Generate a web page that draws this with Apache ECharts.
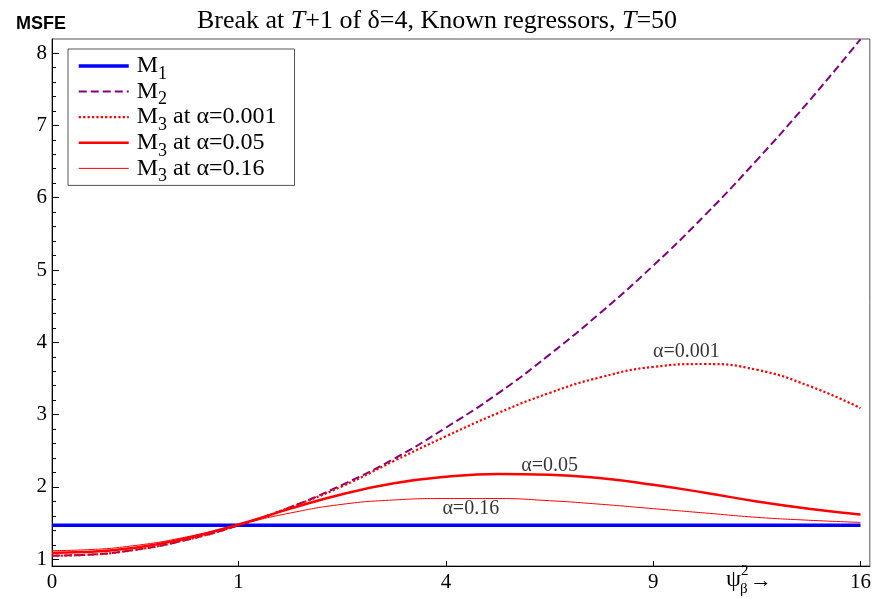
<!DOCTYPE html>
<html>
<head>
<meta charset="utf-8">
<script src="https://cdn.jsdelivr.net/npm/echarts@6/dist/echarts.min.js"></script>
<style>
  html, body { margin: 0; padding: 0; background: #fff; }
  #chart { width: 874px; height: 599px; }
</style>
</head>
<body>
<div id="chart"></div>
<script>
// psi (square root of psi_beta^2) on the x axis
const psi = [0.1, 0.25, 0.5, 0.75, 1, 1.25, 1.5, 1.75, 2, 2.25, 2.5, 2.75, 3, 3.25, 3.5, 3.75, 4];
const m1 = [1.47, 1.47, 1.47, 1.47, 1.47, 1.47, 1.47, 1.47, 1.47, 1.47, 1.47, 1.47, 1.47, 1.47, 1.47, 1.47, 1.47];
const m2 = [1.05, 1.06, 1.13, 1.27, 1.47, 1.72, 2.03, 2.39, 2.82, 3.29, 3.83, 4.42, 5.06, 5.76, 6.52, 7.33, 8.19];
const m3a001 = [1.05, 1.06, 1.13, 1.27, 1.47, 1.72, 2.01, 2.36, 2.70, 3.02, 3.30, 3.52, 3.66, 3.70, 3.62, 3.40, 3.09];
const m3a05 = [1.09, 1.10, 1.16, 1.29, 1.48, 1.70, 1.90, 2.05, 2.14, 2.18, 2.17, 2.12, 2.03, 1.92, 1.80, 1.70, 1.62];
const m3a16 = [1.12, 1.13, 1.19, 1.31, 1.48, 1.64, 1.76, 1.82, 1.84, 1.84, 1.81, 1.76, 1.70, 1.64, 1.58, 1.54, 1.51];

// x ticks: positions in psi and labels in psi^2
const xTickPos = [0.1, 1, 2, 3, 4];
const xTickLabels = ['0', '1', '4', '9', '16'];
const yTicks = [1, 2, 3, 4, 5, 6, 7, 8];

// in-plot alpha labels
const annoText = ['α=0.001', 'α=0.05', 'α=0.16'];
const annoX = [3.16, 2.50, 2.12];
const annoY = [3.87, 2.29, 1.70];

const seriesNames = ['M1', 'M2', 'M3 at α=0.001', 'M3 at α=0.05', 'M3 at α=0.16'];
const legendRich = {
  'M1': 'M{s|1}',
  'M2': 'M{s|2}',
  'M3 at α=0.001': 'M{s|3} at α=0.001',
  'M3 at α=0.05': 'M{s|3} at α=0.05',
  'M3 at α=0.16': 'M{s|3} at α=0.16'
};
const lineWidths = [3.5, 2, 2.2, 2.5, 1];

const serif = 'Liberation Serif';
const yMin = 0.907, yMax = 8.194;

let minorTicks = [];
for (let i = 1; i < 8; i++) {
  for (let k = 1; k < 5; k++) minorTicks.push(+(i + k * 0.2).toFixed(1));
}

function pairs(ys) { return psi.map((x, i) => [x, ys[i]]); }

const chart = echarts.init(document.getElementById('chart'));
const option = {
  backgroundColor: '#fff',
  animation: false,
  title: [{
    text: 'Break at {i|T}+1 of δ=4, Known regressors, {i|T}=50',
    left: 'center',
    top: 3,
    textStyle: {
      fontFamily: serif, fontSize: 26, fontWeight: 'normal', color: '#000',
      rich: { i: { fontFamily: serif, fontSize: 26, fontStyle: 'italic', color: '#000' } }
    }
  }, {
    text: 'MSFE',
    left: 11,
    top: 10,
    textStyle: { fontFamily: 'Liberation Sans', fontSize: 18, fontWeight: 'bold', color: '#000' }
  }],
  grid: {
    left: 52, right: 3, top: 39, bottom: 33,
    show: true, borderColor: '#555', borderWidth: 1
  },
  legend: {
    data: seriesNames.map((n, i) => ({ name: n, lineStyle: { width: lineWidths[i] } })),
    orient: 'vertical',
    left: 68, top: 49,
    padding: [0, 18, 0, 9],
    itemWidth: 50, itemHeight: 14, itemGap: -8.4,
    borderColor: '#555', borderWidth: 1, backgroundColor: '#fff',
    itemStyle: { opacity: 0 },
    formatter: name => legendRich[name],
    textStyle: {
      fontFamily: serif, fontSize: 24, color: '#000',
      padding: [0, 0, 0, 3],
      rich: {
        s: { fontFamily: serif, fontSize: 18, verticalAlign: 'bottom', color: '#000' }
      },
      lineHeight: 34
    }
  },
  xAxis: {
    type: 'value',
    min: 0.1, max: 4.045,
    splitLine: { show: false },
    axisLine: { lineStyle: { color: '#000', width: 1 } },
    axisTick: { inside: true, length: 5, customValues: xTickPos, lineStyle: { color: '#000' } },
    axisLabel: {
      customValues: xTickPos,
      formatter: v => xTickLabels[xTickPos.indexOf(v)],
      fontFamily: serif, fontSize: 21, color: '#000', margin: 6
    }
  },
  yAxis: [{
    type: 'value',
    min: yMin, max: yMax,
    splitLine: { show: false },
    axisLine: { show: true, lineStyle: { color: '#000', width: 1 } },
    axisTick: { show: true, inside: true, length: 7, customValues: yTicks, lineStyle: { color: '#000' } },
    axisLabel: { customValues: yTicks, fontFamily: serif, fontSize: 21, color: '#000', margin: 5 }
  }, {
    type: 'value',
    min: yMin, max: yMax,
    position: 'left',
    splitLine: { show: false },
    axisLine: { show: false },
    axisTick: { show: true, inside: true, length: 4, customValues: minorTicks, lineStyle: { color: '#000' } },
    axisLabel: { show: false }
  }],
  series: [
    { name: seriesNames[0], type: 'line', data: pairs(m1), symbol: 'none', color: '#0000ff',
      lineStyle: { color: '#0000ff', width: lineWidths[0] }, z: 2 },
    { name: seriesNames[1], type: 'line', data: pairs(m2), symbol: 'none', smooth: true, color: '#800080',
      lineStyle: { color: '#800080', width: lineWidths[1], type: 'dashed' }, z: 3 },
    { name: seriesNames[2], type: 'line', data: pairs(m3a001), symbol: 'none', smooth: true, color: '#ff0000',
      lineStyle: { color: '#ff0000', width: lineWidths[2], type: 'dotted' }, z: 4 },
    { name: seriesNames[3], type: 'line', data: pairs(m3a05), symbol: 'none', smooth: true, color: '#ff0000',
      lineStyle: { color: '#ff0000', width: lineWidths[3] }, z: 4 },
    { name: seriesNames[4], type: 'line', data: pairs(m3a16), symbol: 'none', smooth: true, color: '#ff0000',
      lineStyle: { color: '#ff0000', width: lineWidths[4] }, z: 4 },
    { name: 'labels', type: 'scatter', symbolSize: 0, silent: true, z: 5,
      data: annoText.map((t, i) => [annoX[i], annoY[i], t]),
      label: { show: true, position: 'inside', formatter: p => p.value[2],
        fontFamily: serif, fontSize: 20, color: '#000' } }
  ],
  graphic: [
    { type: 'text', left: 726, top: 568, style: { text: 'ψ', fontFamily: serif, fontSize: 24, fill: '#000' } },
    { type: 'text', left: 741, top: 564, style: { text: '2', fontFamily: serif, fontSize: 15, fill: '#000' } },
    { type: 'text', left: 740, top: 582, style: { text: 'β', fontFamily: serif, fontSize: 15, fill: '#000' } },
    { type: 'text', left: 750, top: 570, style: { text: '→', fontFamily: serif, fontSize: 22, fill: '#000' } }
  ]
};
chart.setOption(option);
</script>
</body>
</html>
